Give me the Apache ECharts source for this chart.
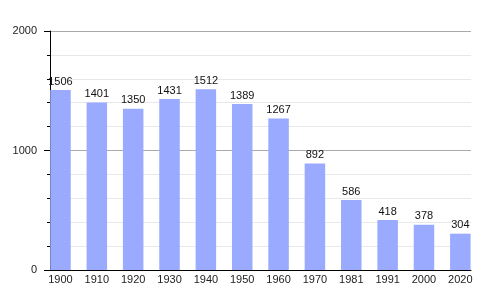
<!DOCTYPE html>
<html><head><meta charset="utf-8">
<script src="https://cdn.jsdelivr.net/npm/echarts@6/dist/echarts.min.js"></script>
<style>html,body{margin:0;padding:0;background:#fff}#c{width:500px;height:300px}</style>
</head><body><div id="c"></div>
<script>
const years = ['1900','1910','1920','1930','1940','1950','1960','1970','1981','1991','2000','2020'];
const population = [1506,1401,1350,1431,1512,1389,1267,892,586,418,378,304];
const yTicks = [0,1000,2000];

const font = 'Liberation Sans, Arial, sans-serif';
const chart = echarts.init(document.getElementById('c'), null, {renderer:'canvas'});
chart.setOption({
  animation:false,
  grid:[
    {left:50, right:29, top:31, bottom:30},
    {left:42.3, width:436.2, top:31, bottom:30}
  ],
  xAxis:[
    {gridIndex:0, type:'category', data:years, boundaryGap:true,
     axisLine:{show:true, lineStyle:{color:'#000', width:1}},
     axisTick:{show:false}, axisLabel:{show:false}, splitLine:{show:false}},
    {gridIndex:1, type:'category', data:years,
     axisLine:{show:false}, axisTick:{show:false},
     axisLabel:{show:true, color:'#222', fontSize:11, fontFamily:font, margin:4, interval:0}}
  ],
  yAxis:[
    {gridIndex:0, type:'value', min:yTicks[0], max:yTicks[yTicks.length-1], interval:1000,
     axisLine:{show:true, lineStyle:{color:'#000', width:1}},
     axisTick:{show:true, length:6, lineStyle:{color:'#000'}},
     minorTick:{show:true, splitNumber:5, length:3, lineStyle:{color:'#000'}},
     axisLabel:{color:'#222', fontSize:11, fontFamily:font, margin:13, formatter:v => String(v)},
     splitLine:{show:true, lineStyle:{color:'#aaa', width:1}},
     minorSplitLine:{show:true, lineStyle:{color:'#e8e8e8', width:1}}},
    {gridIndex:1, type:'value', min:0, max:2000, show:false}
  ],
  series:[{
    type:'bar', xAxisIndex:1, yAxisIndex:1, data:population, barWidth:20.5,
    itemStyle:{color:'#99aaff'},
    label:{show:true, position:'top', distance:3, color:'#111', fontSize:11, fontFamily:font}
  }]
});
</script></body></html>
